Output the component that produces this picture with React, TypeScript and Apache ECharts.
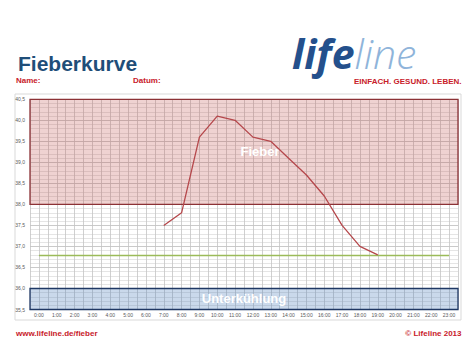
import React, { useEffect, useRef } from "react";
import * as echarts from "echarts";

const hours: number[] = [7, 8, 9, 10, 11, 12, 13, 14, 15, 16, 17, 18, 19];
const temps: number[] = [37.5, 37.8, 39.6, 40.1, 40.0, 39.6, 39.5, 39.1, 38.7, 38.2, 37.5, 37.0, 36.8];
const normalTemp = 36.8;
const normalFrom = 0;
const normalTo = 23;
const feverRange: [number, number] = [38.0, 40.5];
const coldRange: [number, number] = [35.5, 36.0];
const yMin = 35.5;
const yMax = 40.5;
const xMin = -0.5;
const xMax = 23.5;

const RED = "#c8202a";
const FONT = "'Liberation Sans', Arial, sans-serif";

export default function App() {
  const ref = useRef<HTMLDivElement>(null);
  useEffect(() => {
    if (!ref.current) return;
    const chart = echarts.init(ref.current, null, { renderer: "svg" });
    const points = hours.map((h, i) => [h, temps[i]]);
    chart.setOption({
      animation: false,
      backgroundColor: "#ffffff",
      textStyle: { fontFamily: FONT },
      grid: { left: 30, right: 16, top: 99.3, bottom: 45.5, containLabel: false },
      xAxis: {
        type: "value",
        min: xMin,
        max: xMax,
        interval: 0.5,
        axisLine: { show: false },
        axisTick: { show: false },
        axisLabel: {
          fontSize: 5,
          color: "#595959",
          margin: 3,
          showMinLabel: true,
          showMaxLabel: true,
          formatter: (v: number) => (Number.isInteger(v) && v >= 0 ? `${v}:00` : ""),
        },
        splitLine: { show: true, lineStyle: { color: "#c4c4c4", width: 0.8 } },
      },
      yAxis: {
        type: "value",
        min: yMin,
        max: yMax,
        interval: 0.5,
        axisLine: { show: false },
        axisTick: { show: false },
        axisLabel: {
          fontSize: 5,
          color: "#595959",
          margin: 5,
          formatter: (v: number) => v.toFixed(1).replace(".", ","),
        },
        splitLine: { show: true, lineStyle: { color: "#bdbdbd", width: 0.8 } },
        minorTick: { show: false, splitNumber: 5 },
        minorSplitLine: { show: true, lineStyle: { color: "#d4d4d4", width: 0.6 } },
      },
      graphic: [
        {
          type: "rect",
          shape: { x: 15, y: 94, width: 446, height: 226 },
          style: { fill: "none", stroke: "#d9d9d9", lineWidth: 1 },
          silent: true,
        },
        {
          type: "text",
          x: 18,
          y: 63.5,
          style: { text: "Fieberkurve", font: `bold 21px ${FONT}`, fill: "#1f4e79", verticalAlign: "middle" },
        },
        {
          type: "text",
          x: 16,
          y: 80.5,
          style: { text: "Name:", font: `bold 8px ${FONT}`, fill: RED, verticalAlign: "middle" },
        },
        {
          type: "text",
          x: 133,
          y: 80.5,
          style: { text: "Datum:", font: `bold 8px ${FONT}`, fill: RED, verticalAlign: "middle" },
        },
        {
          type: "text",
          x: 461.5,
          y: 81,
          style: { text: "EINFACH. GESUND. LEBEN.", font: `bold 8px ${FONT}`, fill: RED, align: "right", verticalAlign: "middle" },
        },
        {
          type: "text",
          x: 292,
          y: 73,
          style: {
            text: "{a|life}{b|line}",
            verticalAlign: "bottom",
            rich: {
              a: { font: `italic bold 41px 'Open Sans', sans-serif`, fill: "#24508c" },
              b: { font: `italic 300 41px 'Open Sans', sans-serif`, fill: "#8fb4da" },
            },
          },
        },
        {
          type: "text",
          x: 16,
          y: 333,
          style: { text: "www.lifeline.de/fieber", font: `bold 8px ${FONT}`, fill: RED, verticalAlign: "middle" },
        },
        {
          type: "text",
          x: 461.5,
          y: 333,
          style: { text: "\u00a9 Lifeline 2013", font: `bold 8px ${FONT}`, fill: RED, align: "right", verticalAlign: "middle" },
        },
      ],
      series: [
        {
          type: "line",
          data: points,
          symbol: "none",
          lineStyle: { color: "#b5474b", width: 1.3 },
          z: 5,
          markArea: {
            silent: true,
            data: [
              [
                {
                  yAxis: feverRange[0],
                  itemStyle: { color: "rgba(192,80,77,0.26)", borderColor: "#8c3236", borderWidth: 1.3 },
                  label: { show: true, position: "inside", offset: [16, 0], formatter: "Fieber", color: "#ffffff", fontSize: 13, fontWeight: "bold", fontFamily: FONT },
                },
                { yAxis: feverRange[1] },
              ],
              [
                {
                  yAxis: coldRange[0],
                  itemStyle: { color: "rgba(79,129,189,0.3)", borderColor: "#1f3864", borderWidth: 1.3 },
                  label: { show: true, position: "inside", formatter: "Unterkühlung", color: "#ffffff", fontSize: 13, fontWeight: "bold", fontFamily: FONT },
                },
                { yAxis: coldRange[1] },
              ],
            ],
          },
          markLine: {
            silent: true,
            symbol: "none",
            label: { show: false },
            lineStyle: { color: "#9bbb59", width: 1.3, type: "solid" },
            data: [[{ coord: [normalFrom, normalTemp] }, { coord: [normalTo, normalTemp] }]],
          },
        },
      ],
    });
    return () => chart.dispose();
  }, []);
  return <div ref={ref} style={{ position: "fixed", left: 0, top: 0, width: 474, height: 355 }} />;
}
